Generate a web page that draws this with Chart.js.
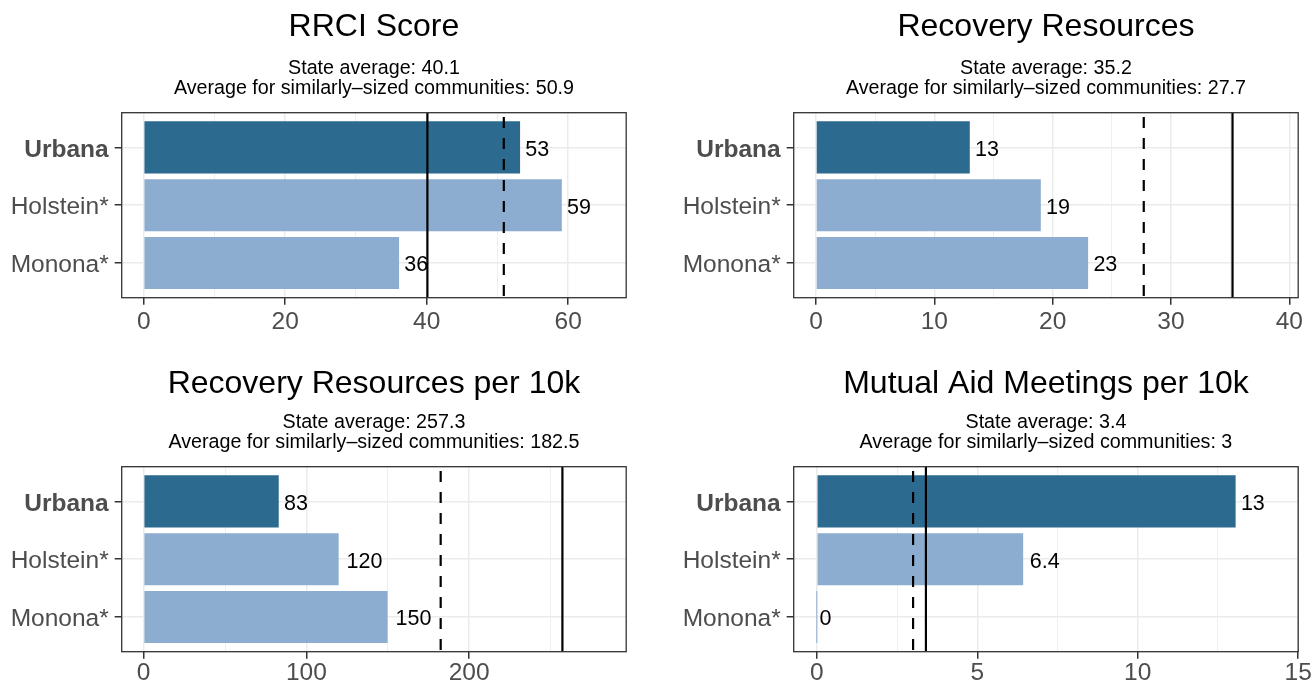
<!DOCTYPE html>
<html>
<head>
<meta charset="utf-8">
<title>Recovery Ready Communities</title>
<script src="https://cdn.jsdelivr.net/npm/chart.js@4.4.0/dist/chart.umd.min.js"></script>
<style>
  html, body { margin: 0; padding: 0; background: #ffffff; overflow: hidden; }
  #wrap { position: relative; width: 1312px; height: 685px; overflow: hidden; }
  #wrap canvas { position: absolute; }
</style>
</head>
<body>
<div id="wrap">
  <canvas id="c0" width="660" height="354" style="left:0px;top:0px"></canvas>
  <canvas id="c1" width="660" height="354" style="left:672px;top:0px"></canvas>
  <canvas id="c2" width="660" height="331" style="left:0px;top:354px"></canvas>
  <canvas id="c3" width="660" height="331" style="left:672px;top:354px"></canvas>
</div>
<script>
// data
const communities = ['Urbana', 'Holstein*', 'Monona*'];
const highlight = 'Urbana';

const titles = ['RRCI Score', 'Recovery Resources', 'Recovery Resources per 10k', 'Mutual Aid Meetings per 10k'];

const rrciScore = [53.2, 59.1, 36.1];
const recoveryResources = [13, 19, 23];
const resourcesPer10k = [83.0, 119.8, 149.9];
const meetingsPer10k = [13.05, 6.43, 0];

const stateAverage = [40.1, 35.2, 257.3, 3.4];
const similarAverage = [50.9, 27.7, 182.5, 3];

// x axis range and labelled tick step for each panel
const xMin = [-3.11, -1.88, -13.5, -0.72];
const xMax = [68.2, 40.75, 296.5, 15.0];
const majorStep = [20, 10, 100, 5];

const seriesList = [rrciScore, recoveryResources, resourcesPer10k, meetingsPer10k];

const FONT = '"Liberation Sans", Arial, Helvetica, sans-serif';
const darkBlue = '#2d6a8f';
const lightBlue = '#8cadcf';

Chart.defaults.font.family = FONT;

// ggplot-style 2 significant digits
const fmt = v => String(Number(v.toPrecision(2)));

const panelBorder = {
  id: 'panelBorder',
  afterDraw(chart) {
    const {ctx, chartArea: a} = chart;
    ctx.save();
    ctx.strokeStyle = '#333333';
    ctx.lineWidth = 1.3;
    ctx.strokeRect(a.left, a.top, a.right - a.left, a.bottom - a.top);
    ctx.restore();
  }
};

const barLabels = {
  id: 'barLabels',
  afterDatasetsDraw(chart) {
    const {ctx} = chart;
    const ds = chart.data.datasets[0];
    const xs = chart.scales.x;
    const meta = chart.getDatasetMeta(0);
    ctx.save();
    ctx.font = '21.5px ' + FONT;
    ctx.fillStyle = '#000000';
    ctx.textAlign = 'left';
    ctx.textBaseline = 'middle';
    ds.data.forEach((d, i) => {
      const text = fmt(d.x);
      const w = ctx.measureText(text).width;
      ctx.fillText(text, xs.getPixelForValue(d.x) + 0.22 * w, meta.data[i].y + 2.5);
    });
    ctx.restore();
  }
};

function makePanel(k) {
  const values = seriesList[k];
  const major = majorStep[k];
  const isMajor = v => Math.abs(v / major - Math.round(v / major)) < 1e-6;
  const canvas = document.getElementById('c' + k);
  const H = canvas.height;
  const bottomRow = k >= 2;

  new Chart(canvas, {
    type: 'bar',
    data: {
      datasets: [
        {
          type: 'bar',
          data: communities.map((c, i) => ({x: values[i], y: i + 1})),
          backgroundColor: communities.map(c => c === highlight ? darkBlue : lightBlue),
          barPercentage: 0.9,
          categoryPercentage: 1.0,
          minBarLength: 1,
          order: 2
        },
        {
          type: 'line',
          data: [{x: stateAverage[k], y: 0.4}, {x: stateAverage[k], y: 3.6}],
          borderColor: '#000000',
          borderWidth: 2.2,
          pointRadius: 0,
          fill: false,
          order: 1
        },
        {
          type: 'line',
          data: [{x: similarAverage[k], y: 0.4}, {x: similarAverage[k], y: 3.6}],
          borderColor: '#000000',
          borderWidth: 2.2,
          borderDash: [11, 10],
          borderDashOffset: 16.7,
          pointRadius: 0,
          fill: false,
          order: 1
        }
      ]
    },
    options: {
      indexAxis: 'y',
      responsive: false,
      animation: false,
      events: [],
      layout: {padding: {left: 0, right: 33.8, top: 0, bottom: 0}},
      scales: {
        x: {
          type: 'linear',
          position: 'bottom',
          min: xMin[k],
          max: xMax[k],
          offset: false,
          afterFit: s => { s.height = H - 297.7; },
          border: {display: false},
          grid: {
            offset: false,
            color: '#ebebeb',
            lineWidth: c => (c.tick && isMajor(c.tick.value)) ? 1.5 : 0.8,
            tickColor: c => (c.tick && isMajor(c.tick.value)) ? '#333333' : 'rgba(0,0,0,0)',
            tickLength: 7,
            tickWidth: 1.5
          },
          ticks: {
            stepSize: major / 2,
            includeBounds: false,
            autoSkip: false,
            maxRotation: 0,
            padding: bottomRow ? 0 : 3,
            color: '#4d4d4d',
            font: {size: 24.5},
            callback: v => isMajor(v) ? String(Math.round(v)) : ''
          }
        },
        y: {
          type: 'linear',
          reverse: true,
          min: 0.4,
          max: 3.6,
          offset: false,
          afterFit: s => { s.width = 121.7; },
          border: {display: false},
          grid: {
            offset: false,
            color: '#ebebeb',
            lineWidth: 1.5,
            tickColor: '#333333',
            tickLength: 7,
            tickWidth: 1.5
          },
          ticks: {
            stepSize: 1,
            includeBounds: false,
            autoSkip: false,
            padding: 6,
            labelOffset: 2.5,
            color: '#4d4d4d',
            font: c => ({size: 24.5, weight: (c.tick && communities[c.tick.value - 1] === highlight) ? 'bold' : 'normal'}),
            callback: v => communities[v - 1] || ''
          }
        }
      },
      plugins: {
        legend: {display: false},
        tooltip: {enabled: false},
        title: {
          display: true,
          text: titles[k],
          fullSize: false,
          color: '#000000',
          font: {size: 32, weight: 'normal', lineHeight: 1.2},
          padding: {top: bottomRow ? 10.7 : 7.7, bottom: 0}
        },
        subtitle: {
          display: true,
          text: ['State average: ' + stateAverage[k],
                 'Average for similarly\u2013sized communities: ' + similarAverage[k]],
          fullSize: false,
          color: '#000000',
          font: {size: 19.7, weight: 'normal', lineHeight: 20 / 19.7},
          padding: bottomRow ? {top: 9.4, bottom: 14.2} : {top: 12.9, bottom: 13.7}
        }
      }
    },
    plugins: [barLabels, panelBorder]
  });
}

[0, 1, 2, 3].forEach(makePanel);
</script>
</body>
</html>
